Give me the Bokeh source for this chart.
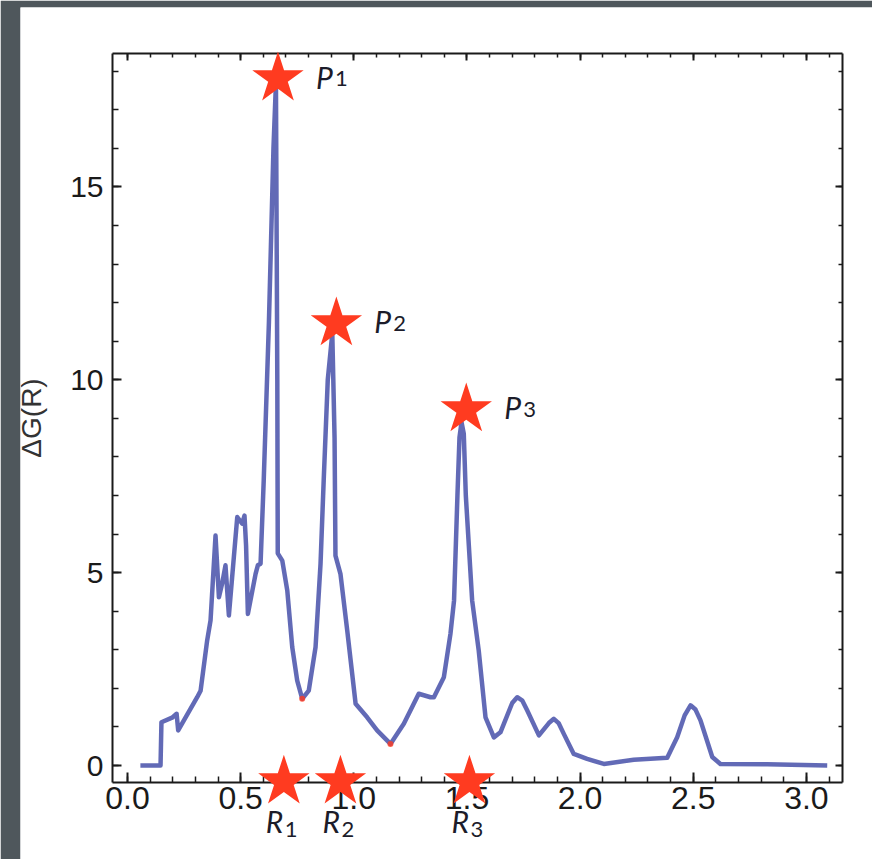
from bokeh.plotting import figure
from bokeh.models import LinearAxis, SingleIntervalTicker, PrintfTickFormatter, CustomJSTickFormatter
from bokeh.core.properties import value
from bokeh.embed import file_html
from bokeh.resources import INLINE

# ---------------- data ----------------
r_values = [0.057, 0.146, 0.150, 0.197, 0.217, 0.224, 0.308, 0.323, 0.352, 0.367,
            0.389, 0.404, 0.418, 0.433, 0.448, 0.485, 0.507, 0.517, 0.524, 0.532,
            0.566, 0.576, 0.588, 0.602, 0.625, 0.645, 0.656, 0.662, 0.664, 0.684,
            0.706, 0.728, 0.750, 0.772, 0.801, 0.831, 0.853, 0.867, 0.885, 0.905,
            0.915, 0.919, 0.941, 0.971, 1.008, 1.059, 1.103, 1.162, 1.221, 1.287,
            1.339, 1.354, 1.398, 1.427, 1.443, 1.458, 1.467, 1.476, 1.486, 1.495,
            1.523, 1.552, 1.582, 1.619, 1.648, 1.700, 1.722, 1.745, 1.766, 1.818,
            1.862, 1.884, 1.905, 1.928, 1.972, 2.031, 2.105, 2.237, 2.385, 2.429,
            2.462, 2.488, 2.510, 2.532, 2.584, 2.620, 2.827, 3.092]
dg_values = [0.00, 0.00, 1.12, 1.24, 1.34, 0.91, 1.77, 1.94, 3.24, 3.76,
             5.96, 4.36, 4.71, 5.19, 3.89, 6.44, 6.27, 6.48, 5.70, 3.93,
             4.97, 5.19, 5.23, 7.39, 11.50, 16.00, 17.70, 10.00, 5.50, 5.31,
             4.54, 3.07, 2.20, 1.73, 1.94, 3.07, 5.23, 7.39, 10.00, 11.20,
             8.50, 5.44, 4.97, 3.50, 1.60, 1.25, 0.91, 0.56, 1.08, 1.86,
             1.77, 1.77, 2.29, 3.41, 4.28, 7.00, 8.50, 8.90, 8.60, 7.00,
             4.28, 2.98, 1.25, 0.73, 0.86, 1.62, 1.77, 1.68, 1.43, 0.78,
             1.10, 1.21, 1.10, 0.82, 0.30, 0.17, 0.04, 0.15, 0.20, 0.73,
             1.30, 1.56, 1.45, 1.17, 0.22, 0.04, 0.03, 0.00]

minima_r = [0.772, 1.162]
minima_dg = [1.73, 0.56]

peak_r = [0.665, 0.923, 1.497]
peak_dg = [17.81, 11.46, 9.23]
peak_names = ["P", "P", "P"]
peak_subs = ["1", "2", "3"]

root_r = [0.691, 0.941, 1.511]
root_names = ["R", "R", "R"]
root_subs = ["1", "2", "3"]
root_level = -0.42

y_label = "ΔG(R)"

# axis box (data units)
X0, X1 = -0.066, 3.159
Y0, Y1 = -0.449, 18.46

RED = "#ff3b20"
BLUE = "#5a62b2"
INK = "#1a1a1a"

p = figure(width=872, height=859, output_backend="svg", toolbar_location=None,
           x_range=(-0.4728, 3.2921), y_range=(-2.437, 19.652),
           x_axis_location=None, y_axis_location=None,
           min_border_left=20, min_border_right=0, min_border_top=7, min_border_bottom=0,
           border_fill_color="#4f575c", background_fill_color="white",
           outline_line_color=None)
p.xgrid.visible = False
p.ygrid.visible = False

xt = SingleIntervalTicker(interval=0.5, num_minor_ticks=5)
yt = SingleIntervalTicker(interval=5, num_minor_ticks=5)
blank = CustomJSTickFormatter(code="return ''")

common = dict(axis_line_color=INK, axis_line_width=2,
              major_tick_line_color=INK, minor_tick_line_color=INK,
              major_tick_line_width=2, minor_tick_line_width=1.5,
              major_tick_out=0, minor_tick_out=0)

bottom = LinearAxis(ticker=xt, fixed_location=Y0, bounds=(X0, X1),
                    formatter=PrintfTickFormatter(format="%.1f"),
                    major_tick_in=10, minor_tick_in=6,
                    major_label_text_font="Liberation Sans",
                    major_label_text_font_size="32px",
                    major_label_text_color=INK, major_label_standoff=4, **common)
top = LinearAxis(ticker=xt, fixed_location=Y1, bounds=(X0, X1), formatter=blank,
                 major_tick_in=7, minor_tick_in=4, **common)
left = LinearAxis(ticker=yt, fixed_location=X0, bounds=(Y0, Y1),
                  major_tick_in=9, minor_tick_in=6,
                  major_label_text_font="Liberation Sans",
                  major_label_text_font_size="30px",
                  major_label_text_color=INK, major_label_standoff=9,
                  axis_label=y_label, axis_label_text_font="Liberation Sans",
                  axis_label_text_font_size="28px", axis_label_text_font_style="normal",
                  axis_label_text_color="#333333", axis_label_standoff=20, **common)
right = LinearAxis(ticker=yt, fixed_location=X1, bounds=(Y0, Y1), formatter=blank,
                   major_tick_in=7, minor_tick_in=4, **common)
p.add_layout(bottom, "below")
p.add_layout(top, "above")
p.add_layout(left, "left")
p.add_layout(right, "right")

# curve
p.line(r_values, dg_values, line_color=BLUE, line_width=4.5, line_join="round", line_alpha=0.95)
p.scatter(minima_r, minima_dg, size=6, fill_color=RED, line_color=None, fill_alpha=0.8)

# stars
p.scatter(peak_r, peak_dg, marker="star", size=54, fill_color=RED, line_color=None, level="overlay")
root_y = [root_level] * len(root_r)
p.scatter(root_r, root_y, marker="star", size=54, fill_color=RED,
          line_color=None, level="overlay")

# labels
LAB = "#1c1c2a"
p.text(peak_r, peak_dg, text=peak_names, x_offset=38, y_offset=-2, text_baseline="alphabetic",
       text_font=value("Lato"), text_font_style="italic", text_font_size="30px", text_color=LAB)
p.text(peak_r, peak_dg, text=peak_subs, x_offset=57, y_offset=0, text_baseline="alphabetic",
       text_font=value("Lato"), text_font_size="22px", text_color=LAB)
p.text(root_r, root_y, text=root_names, x_offset=-18, y_offset=39, text_baseline="alphabetic",
       text_font=value("Lato"), text_font_style="italic", text_font_size="30px", text_color=LAB)
p.text(root_r, root_y, text=root_subs, x_offset=1, y_offset=48, text_baseline="alphabetic",
       text_font=value("Lato"), text_font_size="22px", text_color=LAB)

open("out.html", "w").write(file_html(p, INLINE))
